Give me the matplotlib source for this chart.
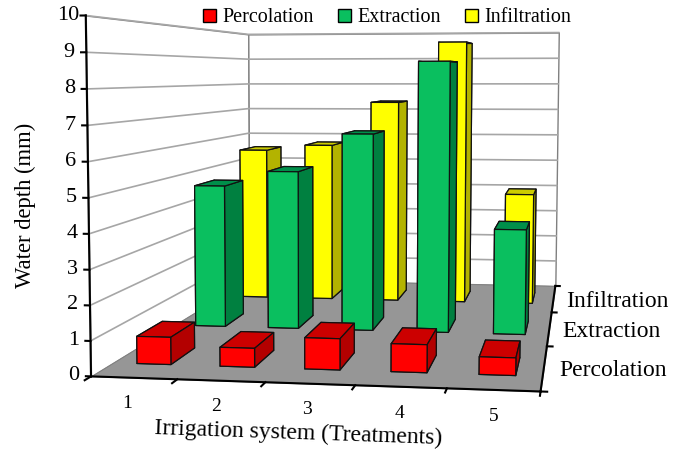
import numpy as np
import matplotlib
matplotlib.use("Agg")
import matplotlib.pyplot as plt
from matplotlib.patches import Patch
from mpl_toolkits.mplot3d.art3d import Poly3DCollection

plt.rcParams['font.family'] = ['Liberation Serif', 'DejaVu Serif']

treatments = ["1", "2", "3", "4", "5"]
series_names = ["Percolation", "Extraction", "Infiltration"]
percolation = [0.8, 0.55, 0.9, 0.8, 0.5]
extraction = [4.7, 5.2, 6.45, 8.8, 3.4]
infiltration = [5.55, 5.75, 7.35, 9.55, 4.0]
depth_ticks = [0, 1, 2, 3, 4, 5, 6, 7, 8, 9, 10]

# order of faces for bar3d: bottom, top, front, back, left, right
red = ['#FF0000', '#CC0000', '#FF0000', '#FF0000', '#B30000', '#B30000']
green = ['#0ABF5F', '#008F4A', '#0ABF5F', '#0ABF5F', '#008040', '#008040']
yellow = ['#FFFF00', '#CCCC00', '#FFFF00', '#FFFF00', '#B3B300', '#B3B300']

W, H = 686, 453
box = np.array([4.4, 4.1, 3.62])
side = 760
# mplot3d moves the eye with the focal length, so the box is scaled along with it
focal = 860 * 0.185 / side

# where points of the chart box sit in the picture (px from top left)
frame_points = [(0, 0, 0), (1, 0, 0), (2, 0, 0), (3, 0, 0), (4, 0, 0), (5, 0, 0),
                (5, 1, 0), (5, 2, 0), (5, 3, 0), (0, 3, 0),
                (0, 0, 5), (0, 3, 5), (5, 3, 5), (0, 0, 10), (0, 3, 10), (5, 3, 10)]
frame_pixels = [(91, 375), (177, 379), (265, 382), (355, 385), (448, 389), (542, 392),
                (546, 347), (550, 312), (556, 285), (250, 281),
                (88, 198), (249, 157), (557, 160), (86, 16), (248, 34), (559, 33)]

fig = plt.figure(figsize=(W / 100, H / 100), dpi=100)
left = (355 - 0.5135 * side) / W
bottom = ((H - 178) - 0.5135 * side) / H
ax = fig.add_axes([left, bottom, side / W, side / H], projection='3d')
ax.computed_zorder = False
ax.set_proj_type('persp', focal_length=focal)
ax.view_init(elev=5.5, azim=-74.4, roll=3)
ax.set_box_aspect(box, zoom=focal * np.linalg.norm(box) / 1.9057)
ax.set_axis_off()

# walls and floor
ax.add_collection3d(Poly3DCollection([[(0, 0, 0), (0, 3, 0), (0, 3, 10), (0, 0, 10)]],
                                     facecolors='white', edgecolors='#808080', linewidths=1, zorder=0))
ax.add_collection3d(Poly3DCollection([[(0, 3, 0), (5, 3, 0), (5, 3, 10), (0, 3, 10)]],
                                     facecolors='white', edgecolors='#808080', linewidths=1, zorder=0))
ax.add_collection3d(Poly3DCollection([[(0, 0, 0), (5, 0, 0), (5, 3, 0), (0, 3, 0)]],
                                     facecolors='#969696', edgecolors='#808080', linewidths=0.6, zorder=1))

for z in depth_ticks[1:]:
    ax.plot([0, 0, 5], [0, 3, 3], [z, z, z], color='#A6A6A6', lw=1.2, zorder=1)

# axes lines and ticks
ax.plot([0, 0], [0, 0], [0, 10], color='black', lw=1.5, zorder=2)
ax.plot([0, 5], [0, 0], [0, 0], color='black', lw=1.5, zorder=2)
ax.plot([5, 5], [0, 3], [0, 0], color='black', lw=1.5, zorder=2)
for z in depth_ticks:
    ax.plot([0, -0.06], [0, 0], [z, z], color='black', lw=1.5, zorder=2)
    ax.text(-0.2, 0, z, str(z), ha='center', va='center', fontsize=16)
for i in range(6):
    ax.plot([i, i], [0, -0.08], [0, 0], color='black', lw=1.5, zorder=2)
for j in range(4):
    ax.plot([5, 5.07], [j, j], [0, 0], color='black', lw=1.5, zorder=2)

# bars, back row first
bar_x, bar_y, bar_w, bar_d = 0.29, 0.3, 0.41, 0.4
order = 3
rows = [(2, infiltration, yellow), (1, extraction, green), (0, percolation, red)]
for row, values, colors in rows:
    for i, v in enumerate(values):
        ax.bar3d(i + bar_x, row + bar_y, 0, bar_w, bar_d, v, color=colors, shade=False,
                 edgecolor='#111111', linewidth=0.9, zorder=order)
        order += 1

ax.set_xlim(0, 5, view_margin=0)
ax.set_ylim(0, 3, view_margin=0)
ax.set_zlim(0, 10, view_margin=0)

# the reference is no true camera view, so fit the camera matrix to the frame of the
# picture and keep only the depth row of the mplot3d projection
M = ax.get_proj()
w_end = M[3] @ np.array([2.5, 1.5, 5, 1])
rows_a, rows_b = [], []
for (x, y, z), pixel in zip(frame_points, frame_pixels):
    u, v = ax.transData.inverted().transform((pixel[0], H - pixel[1]))
    rows_a.append([x, y, z, 1, 0, 0, 0, 0, -u * x, -u * y, -u * z])
    rows_a.append([0, 0, 0, 0, x, y, z, 1, -v * x, -v * y, -v * z])
    rows_b += [u * w_end, v * w_end]
p = np.linalg.lstsq(np.array(rows_a), np.array(rows_b), rcond=None)[0]
fitted = np.array([p[0:4], p[4:8], M[2], [p[8], p[9], p[10], w_end]])
ax.get_proj = lambda: fitted

# category labels
for i, t in enumerate(treatments):
    ax.text(i * 0.94 + 0.82, -0.47, 0, t, ha='center', va='center', fontsize=14)
ax.text(5.19, 2.4, 0, series_names[2], ha='left', va='center', fontsize=17)
ax.text(5.18, 1.42, 0, series_names[1], ha='left', va='center', fontsize=17)
ax.text(5.18, 0.44, 0, series_names[0], ha='left', va='center', fontsize=17)

fig.text(298 / W, 1 - 433 / H, "Irrigation system (Treatments)", ha='center', va='center',
         fontsize=17, rotation=-2)
fig.text(25 / W, 1 - 205 / H, "Water depth (mm)", ha='center', va='center', fontsize=16.3, rotation=90)

handles = [Patch(facecolor=c[0], edgecolor='black', linewidth=1) for c in (red, green, yellow)]
fig.legend(handles, series_names, ncol=3, loc='center', bbox_to_anchor=(387 / W, 1 - 18 / H), frameon=False,
           fontsize=14.5, handlelength=0.65, handleheight=0.65, handletextpad=0.3, columnspacing=1.2)

fig.savefig("out.png", dpi=100)
